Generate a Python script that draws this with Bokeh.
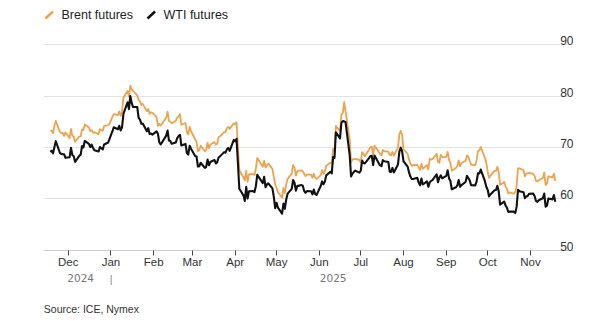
import pandas as pd
from bokeh.plotting import figure
from bokeh.models import (Range1d, FixedTicker, DatetimeTickFormatter, Label,
                          Arrow, ColumnDataSource)
from bokeh.embed import file_html
from bokeh.resources import INLINE

# ---------------- data ----------------
market_holidays = ["2024-12-25", "2025-01-01", "2025-04-18"]
first_day = "2024-11-18"
last_day = "2025-11-19"

brent = [
    # Nov 2024
    73.30, 73.31, 72.81, 74.23, 75.17, 73.01, 72.81, 72.83, 72.28, 72.94,
    # Dec 2024
    71.83, 73.62, 72.31, 72.09, 71.12, 72.14, 72.19, 73.52, 73.41, 74.49,
    73.91, 73.19, 73.39, 72.88, 72.94, 72.63, 73.58, 73.26, 74.17, 74.39, 74.64,
    # Jan 2025
    75.93, 76.51, 76.30, 77.05, 76.16, 76.92, 79.76, 81.01, 79.92, 82.03, 81.29,
    81.06, 80.15, 79.29, 79.00, 78.29, 78.50, 77.08, 77.49, 76.58, 76.87, 76.76,
    # Feb 2025
    75.96, 74.20, 74.61, 74.29, 74.66, 75.87, 77.00, 75.18, 75.02, 74.74,
    75.22, 75.84, 76.04, 76.48, 74.43, 74.78, 73.02, 72.53, 74.04, 73.18,
    # Mar 2025
    71.62, 71.04, 69.30, 69.46, 70.36, 69.28, 69.56, 70.95, 69.88, 70.58,
    71.07, 70.56, 70.78, 72.00, 72.16, 73.00, 73.02, 73.79, 74.03, 73.63, 74.74,
    # Apr 2025
    74.49, 74.95, 70.14, 65.58, 64.21, 63.60, 65.48, 63.33, 64.76, 64.88, 64.67,
    65.85, 67.96, 66.26, 67.44, 66.12, 66.55, 66.87, 65.86, 64.25, 62.80,
    # May 2025
    62.13, 61.29, 60.23, 62.15, 61.12, 62.84, 63.91, 64.96, 66.63, 66.09, 64.53,
    65.41, 65.54, 65.38, 64.91, 64.44, 64.78, 64.74, 64.09, 64.90, 64.15, 63.90,
    # Jun 2025
    64.63, 65.63, 64.86, 65.34, 66.47, 67.04, 66.87, 69.77, 69.36, 74.23, 73.23,
    76.45, 76.70, 78.85, 77.01, 71.48, 67.14, 67.68, 67.73, 67.77, 67.61,
    # Jul 2025
    67.11, 69.11, 68.80, 68.30, 69.58, 70.15, 70.19, 68.64, 70.36, 69.21, 68.71,
    68.52, 69.52, 69.28, 69.21, 68.59, 68.51, 69.18, 68.44, 70.04, 72.51, 73.24, 72.53,
    # Aug 2025
    69.67, 68.76, 67.64, 66.89, 66.43, 66.59, 66.63, 66.12, 65.63, 66.84, 65.85,
    66.60, 65.79, 67.84, 67.67, 67.73, 68.80, 67.22, 67.05, 68.62, 68.12,
    # Sep 2025
    68.15, 69.14, 67.60, 66.99, 65.50, 66.02, 66.39, 67.49, 66.37, 66.99, 67.44,
    68.47, 68.22, 67.44, 66.68, 66.57, 67.63, 69.31, 69.42, 70.13, 67.97, 67.02,
    # Oct 2025
    65.35, 64.11, 64.53, 65.47, 65.45, 66.25, 65.22, 62.73, 63.32, 62.39, 61.91,
    61.06, 61.29, 61.01, 61.32, 62.59, 65.99, 65.94, 65.62, 64.40, 64.92, 65.00, 65.07,
    # Nov 2025
    64.89, 64.44, 63.52, 63.38, 63.63, 64.06, 65.16, 62.71, 63.01, 64.39, 64.20,
    64.89, 63.51,
]

wti = [
    # Nov 2024
    69.16, 69.39, 68.87, 70.10, 71.24, 68.94, 68.77, 68.72, 68.70, 68.00,
    # Dec 2024
    68.10, 69.94, 68.54, 68.30, 67.20, 68.37, 68.59, 70.29, 70.02, 71.29,
    70.71, 70.08, 70.58, 69.91, 69.46, 69.24, 70.10, 69.62, 70.60, 70.99, 71.72,
    # Jan 2025
    73.13, 73.96, 73.56, 74.25, 73.32, 73.92, 76.57, 78.82, 77.50, 80.04, 78.68,
    77.88, 77.90, 75.83, 75.44, 74.62, 74.66, 73.17, 73.77, 72.62, 72.73, 72.53,
    # Feb 2025
    73.16, 72.70, 71.03, 70.61, 71.00, 72.32, 73.32, 71.37, 71.29, 70.74,
    71.00, 71.85, 72.25, 72.48, 70.40, 70.70, 68.93, 68.62, 70.35, 69.76,
    # Mar 2025
    68.37, 68.26, 66.31, 66.36, 67.04, 66.03, 66.25, 67.68, 66.55, 67.18,
    67.58, 66.90, 67.16, 68.07, 68.28, 69.11, 69.00, 69.65, 69.92, 69.36, 71.48,
    # Apr 2025
    71.20, 71.71, 66.95, 61.99, 60.70, 59.60, 62.35, 60.07, 61.50, 61.53, 61.33,
    62.47, 64.68, 63.08, 64.31, 62.27, 62.79, 63.02, 62.05, 60.42, 58.21,
    # May 2025
    59.24, 58.29, 57.13, 59.09, 58.07, 59.91, 61.02, 61.95, 63.67, 63.15, 61.62,
    62.49, 62.69, 62.56, 61.57, 61.20, 61.53, 61.50, 60.89, 61.84, 60.94, 60.79,
    # Jun 2025
    62.52, 63.41, 62.85, 63.37, 64.58, 65.29, 64.98, 68.15, 67.97, 72.98, 71.77,
    74.84, 75.14, 75.10, 74.93, 68.51, 64.37, 64.92, 65.24, 65.52, 65.11,
    # Jul 2025
    65.45, 67.45, 67.00, 66.90, 67.93, 68.33, 68.38, 66.57, 68.45, 66.98, 66.52,
    66.38, 67.54, 67.34, 67.20, 65.31, 65.25, 66.03, 65.16, 66.71, 69.21, 70.00, 69.26,
    # Aug 2025
    67.33, 66.29, 65.16, 64.35, 63.88, 63.88, 64.10, 63.17, 62.65, 63.96, 62.80,
    63.42, 62.35, 63.21, 63.52, 63.66, 64.80, 63.25, 64.15, 64.60, 64.01,
    # Sep 2025
    64.50, 65.59, 63.97, 63.48, 61.87, 62.26, 62.63, 63.67, 62.37, 62.69, 63.30,
    64.52, 64.05, 63.57, 62.68, 62.64, 63.41, 64.99, 64.98, 65.72, 63.45, 62.37,
    # Oct 2025
    61.78, 60.48, 60.88, 61.69, 61.73, 62.55, 61.51, 58.90, 59.49, 58.70, 58.27,
    57.46, 57.54, 57.52, 57.24, 58.50, 61.79, 61.50, 61.31, 60.15, 60.48, 60.57, 60.98,
    # Nov 2025
    61.05, 60.56, 59.60, 59.43, 59.75, 60.13, 61.04, 58.49, 58.69, 60.09, 59.91,
    60.74, 59.44,
]

month_ticks = ["2024-12-01", "2025-01-01", "2025-02-01", "2025-03-01",
               "2025-04-01", "2025-05-01", "2025-06-01", "2025-07-01",
               "2025-08-01", "2025-09-01", "2025-10-01", "2025-11-01"]
month_labels = ["Dec", "Jan", "Feb", "Mar", "Apr", "May", "Jun", "Jul",
                "Aug", "Sep", "Oct", "Nov"]
year_labels = ["2024", "2025"]
year_break = "2025-01-01"
y_ticks = [50, 60, 70, 80, 90]
y_tick_labels = ["50", "60", "70", "80", "90"]
series_names = ["Brent futures", "WTI futures"]
source_text = "Source: ICE, Nymex"

# ---------------- build ----------------
dates = pd.bdate_range(first_day, last_day, freq="C", holidays=market_holidays)
n = min(len(dates), len(brent), len(wti))
src = ColumnDataSource(dict(date=dates[:n], brent=brent[:n], wti=wti[:n]))

W, H = 600, 321
L, R = 43, 27
FW = W - L - R

x0 = pd.Timestamp(first_day) - pd.Timedelta(hours=118)
x1 = pd.Timestamp(last_day) + pd.Timedelta(hours=317)
PPU = 5.1375                      # pixels per price unit
y1 = y_ticks[-1] + 44.3 / PPU     # top of canvas
y0 = y1 - H / PPU                 # bottom of canvas


def ms(ts):
    return int(pd.Timestamp(ts).value // 1_000_000)


def px2x(px):
    return ms(x0) + (px - L) / FW * (ms(x1) - ms(x0))


def py2y(py):
    return y1 - py / PPU


p = figure(width=W, height=H, x_axis_type="datetime", y_axis_location=None,
           x_range=Range1d(x0, x1), y_range=Range1d(y0, y1),
           min_border_left=L, min_border_right=R, min_border_top=0,
           min_border_bottom=0, toolbar_location=None, output_backend="svg")
p.outline_line_color = None
p.background_fill_color = "white"
p.border_fill_color = "white"

p.xgrid.visible = False
p.ygrid.ticker = FixedTicker(ticks=y_ticks[1:])
p.ygrid.grid_line_color = "#e3e3e3"
p.ygrid.grid_line_width = 1

ORANGE = "#efa24e"
BLACK = "#111111"
p.line(x="date", y="brent", source=src, line_color=ORANGE, line_width=1.8,
       line_join="round")
p.line(x="date", y="wti", source=src, line_color=BLACK, line_width=2.1,
       line_join="round")

# month axis, drawn at the 50 level
ax = p.xaxis[0]
ax.fixed_location = y_ticks[0]
tick_ms = [ms(t) for t in month_ticks]
ax.ticker = FixedTicker(ticks=tick_ms)
ax.formatter = DatetimeTickFormatter(days="%b", months="%b", years="%b")
ax.major_label_overrides = {t: lab for t, lab in zip(tick_ms, month_labels)}
ax.axis_line_color = "#cccccc"
ax.major_tick_line_color = "#444444"
ax.major_tick_out = 5
ax.major_tick_in = 0
ax.minor_tick_line_color = None
ax.major_label_text_font = "Liberation Sans"
ax.major_label_text_font_size = "11.5px"
ax.major_label_text_color = "#333333"
ax.major_label_standoff = 1

# year labels and separator
d_first = pd.Timestamp(first_day)
d_break = pd.Timestamp(year_break)
d_last = pd.Timestamp(last_day)
year_pos = [d_first + (d_break - d_first) / 2, d_break + (d_last - d_break) / 2]
for pos, lab in zip(year_pos, year_labels):
    p.add_layout(Label(x=ms(pos), y=py2y(277.5), text=lab, text_align="center",
                       text_baseline="middle", text_font="DejaVu Sans",
                       text_font_size="10.5px", text_color="#777777"))
p.add_layout(Label(x=ms(d_break), y=py2y(278), text="|", text_align="center",
                   text_baseline="middle", text_font="Liberation Sans",
                   text_font_size="10.5px", text_color="#888888"))

# source line
p.add_layout(Label(x=px2x(43.3), y=py2y(308), text=source_text,
                   text_align="left", text_baseline="middle",
                   text_font="Liberation Sans", text_font_size="10.5px",
                   text_color="#333333"))

# y tick labels above gridlines, right aligned
for v, lab in zip(y_ticks, y_tick_labels):
    p.add_layout(Label(x=ms(x1), y=v, text=lab, text_align="right",
                       text_baseline="alphabetic", y_offset=4,
                       text_font="Liberation Sans", text_font_size="12px",
                       text_color="#333333"))

# legend
for (sx, color), (tx, name) in zip([(45, ORANGE), (147, BLACK)],
                                   [(61, series_names[0]), (163, series_names[1])]):
    p.add_layout(Arrow(x_start=px2x(sx), y_start=py2y(18), x_end=px2x(sx + 7.5),
                       y_end=py2y(11), start=None, end=None, line_color=color,
                       line_width=2.5))
    p.add_layout(Label(x=px2x(tx), y=py2y(14.5), text=name, text_align="left",
                       text_baseline="middle", text_font="Liberation Sans",
                       text_font_size="12.5px", text_color="#222222"))

open("out.html", "w").write(file_html(p, INLINE))
